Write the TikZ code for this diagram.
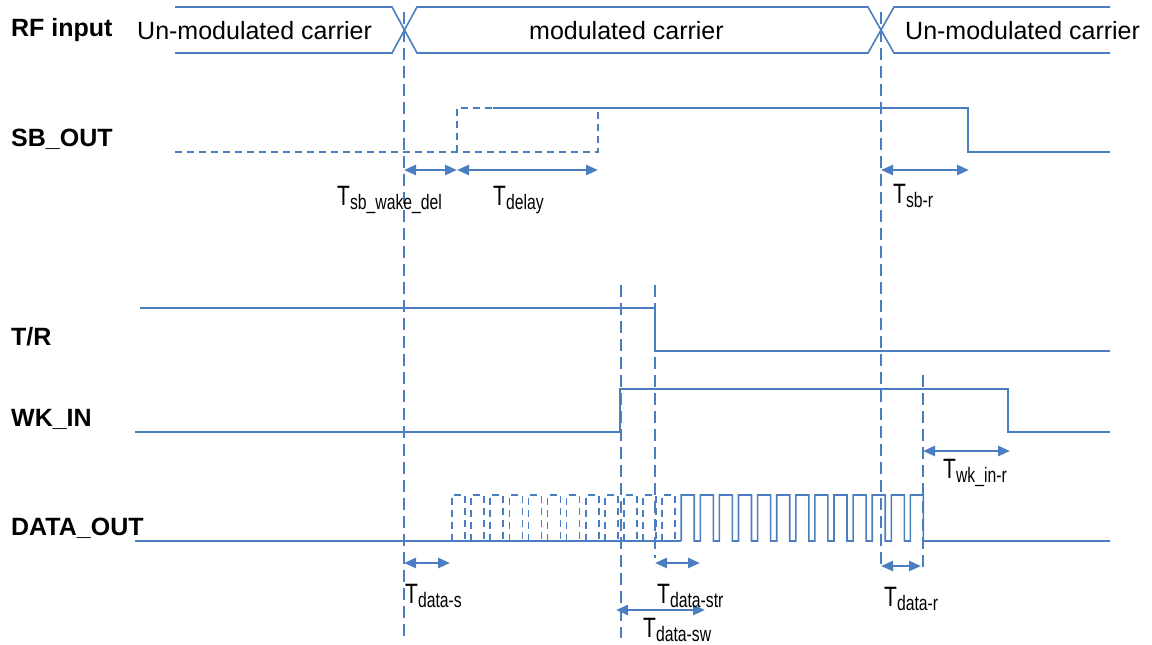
\documentclass[tikz,border=0pt]{standalone}
\usepackage{fontspec}
\setmainfont{Liberation Sans}
\newfontfamily\narrowsans[FakeStretch=0.75]{Liberation Sans}
\usetikzlibrary{arrows.meta}
\definecolor{wave}{RGB}{74,126,193}
\newcommand{\tname}[1]{{\narrowsans\fontsize{28}{28}\selectfont T}\raisebox{-4pt}{\narrowsans\fontsize{21}{21}\selectfont #1}}

\begin{document}
\begin{tikzpicture}[x=1pt,y=-1pt,
  sig/.style={draw=wave,line width=1.6pt},
  ghost/.style={sig,dash pattern=on 7pt off 5pt},
  marker/.style={draw=wave,line width=1.6pt,dash pattern=on 12pt off 6pt},
  span/.style={draw=wave,line width=2.4pt,
    {Triangle[length=12pt,width=10pt]}-{Triangle[length=12pt,width=10pt]}},
  signame/.style={font=\bfseries\fontsize{25}{25}\selectfont,anchor=base west,inner sep=0pt},
  phase/.style={font=\fontsize{25}{25}\selectfont,anchor=base west,inner sep=0pt},
  tlabel/.style={anchor=base west,inner sep=0pt}
  ]
  \useasboundingbox (0,0) rectangle (1152,645);

  \coordinate (rfA) at (404,0);
  \coordinate (sbUp) at (457,0);
  \coordinate (sbLate) at (598,0);
  \coordinate (wkUp) at (621,0);
  \coordinate (trDown) at (655,0);
  \coordinate (rfB) at (881,0);
  \coordinate (dataEnd) at (923,0);
  \coordinate (sbDown) at (969,0);
  \coordinate (wkDown) at (1010,0);

  \node (rf)   [signame] at (11,36)  {RF input};
  \node (sb)   [signame] at (11,146) {SB\_OUT};
  \node (tr)   [signame] at (11,345) {T/R};
  \node (wk)   [signame] at (11,426) {WK\_IN};
  \node (data) [signame] at (11,535) {DATA\_OUT};

  \node (unmodA) [phase] at (137,39) {Un-modulated carrier};
  \node (mod)    [phase] at (529,39) {modulated carrier};
  \node (unmodB) [phase] at (905,39) {Un-modulated carrier};

  \draw[sig] (175,7) -- (392,7) -- (417,53) -- (868,53) -- (894,7) -- (1110,7);
  \draw[sig] (175,53) -- (392,53) -- (417,7) -- (868,7) -- (894,53) -- (1110,53);

  \draw[ghost] (175,152) -- (598,152) -- (598,108);
  \draw[ghost] (457,152) -- (457,108) -- (598,108);
  \draw[sig] (493,108) -- (968,108) -- (968,152) -- (1110,152);

  \draw[sig] (140,308) -- (655,308) -- (655,351) -- (1110,351);
  \draw[sig] (135,432) -- (620,432) -- (620,389) -- (1008,389) -- (1008,432) -- (1110,432);

  \draw[sig] (135,541) -- (681,541);
  \foreach \k in {0,...,11}
    \draw[ghost] ({452+19.1*\k},541) |- ({465+19.1*\k},495) |- ({471.1+19.1*\k},541);
  \draw[sig] (681.2,541)
    \foreach \k in {12,...,24} {
      -- ({452+19.1*\k},495) -- ({465+19.1*\k},495)
      -- ({465+19.1*\k},541) -- ({471.1+19.1*\k},541)}
    -- (1110,541);

  \draw[marker] (rfA |- 0,12) -- (rfA |- 0,640);
  \draw[marker] (rfB |- 0,12) -- (rfB |- 0,570);
  \draw[marker] (wkUp |- 0,285) -- (wkUp |- 0,638);
  \draw[marker] (trDown |- 0,285) -- (trDown |- 0,558);
  \draw[marker] (dataEnd |- 0,375) -- (dataEnd |- 0,570);

  \draw[span] (rfA |- 0,170) -- (sbUp |- 0,170);
  \draw[span] (sbUp |- 0,170) -- (sbLate |- 0,170);
  \draw[span] (rfB |- 0,170) -- (sbDown |- 0,170);
  \draw[span] (dataEnd |- 0,451) -- (wkDown |- 0,451);
  \draw[span] (rfA |- 0,563) -- (450,563);
  \draw[span] (trDown |- 0,563) -- (700,563);
  \draw[span] (rfB |- 0,566) -- (921,566);
  \draw[span] (616,610) -- (705,610);

  \node (tsbw)  [tlabel] at (337,205) {\tname{sb\_wake\_del}};
  \node (tdel)  [tlabel] at (493,205) {\tname{delay}};
  \node (tsbr)  [tlabel] at (893,203) {\tname{sb-r}};
  \node (twk)   [tlabel] at (943,478) {\tname{wk\_in-r}};
  \node (tds)   [tlabel] at (405,603) {\tname{data-s}};
  \node (tdstr) [tlabel] at (657,603) {\tname{data-str}};
  \node (tdr)   [tlabel] at (884,606) {\tname{data-r}};
  \node (tdsw)  [tlabel] at (643,637) {\tname{data-sw}};
\end{tikzpicture}
\end{document}
